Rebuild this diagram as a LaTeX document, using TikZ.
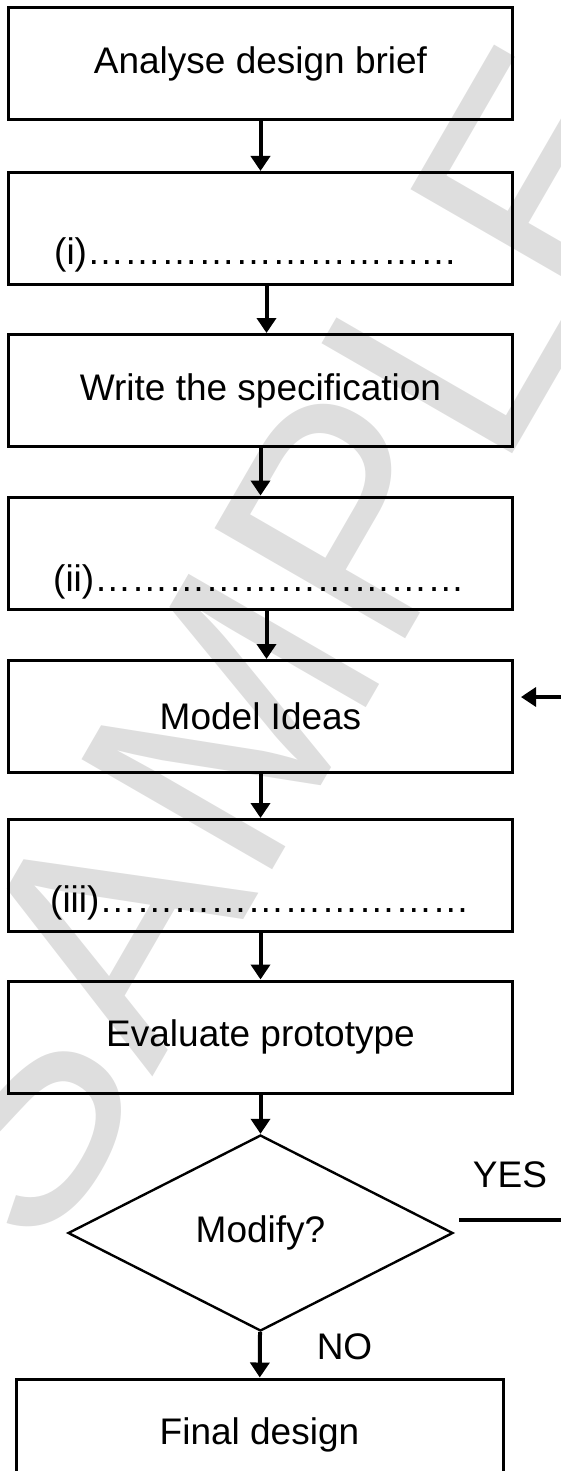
\documentclass[tikz,border=0pt]{standalone}
\usepackage{fontspec}
\setmainfont{Liberation Sans}
\usetikzlibrary{shapes.geometric,arrows.meta}

\begin{document}
\begin{tikzpicture}[x=1pt,y=-1pt,
  caixa/.style = {draw,line width=3pt,minimum width=504pt,minimum height=112pt,inner sep=0pt,font=\fontsize{37}{44}\selectfont},
  lacuna/.style = {anchor=base west,inner sep=0pt,font=\fontsize{37}{44}\selectfont},
  decisao/.style = {diamond,draw,line width=2.4pt,aspect=1.96,minimum width=385pt,minimum height=196pt,inner sep=0pt,font=\fontsize{37}{44}\selectfont},
  rotulo/.style = {inner sep=0pt,font=\fontsize{37}{44}\selectfont},
  seta/.style = {line width=4pt,-{Triangle[length=15pt,width=19pt]}},
  marca/.style = {text=black!13,rotate=60,inner sep=0pt,font=\fontsize{320}{320}\selectfont}]
\useasboundingbox (0,0) rectangle (560,1471);
\node[marca] (sample) at (275,645) {SAMPLE};

\node[caixa] (brief) at (260.5,64) {Analyse design brief};
\node[caixa] (passo1) at (260.5,228.5) {};
\node[caixa] (spec) at (260.5,390.5) {Write the specification};
\node[caixa] (passo2) at (260.5,553) {};
\node[caixa] (model) at (260.5,716.5) {Model Ideas};
\node[caixa] (passo3) at (260.5,875.5) {};
\node[caixa] (evaluate) at (260.5,1037) {Evaluate prototype};
\node[decisao] (modify) at (260.5,1233) {Modify?};
\node[caixa,minimum width=487pt] (final) at (259.5,1435) {Final design};

\node[lacuna] (i) at (54,264) {(i)…………………………};
\node[lacuna] (ii) at (53,591) {(ii)…………………………};
\node[lacuna] (iii) at (50,912) {(iii)…………………………};
\node[rotulo] (yes) at (510,1175) {YES};
\node[rotulo] (no) at (344.5,1347) {NO};

\draw[seta] (brief) -- (passo1);
\draw[seta] ([xshift=6pt]passo1.south) -- ([xshift=6pt]spec.north);
\draw[seta] (spec) -- (passo2);
\draw[seta] ([xshift=6pt]passo2.south) -- ([xshift=6pt]model.north);
\draw[seta] (model) -- (passo3);
\draw[seta] (passo3) -- (evaluate);
\draw[seta] (evaluate) -- (modify);
\draw[seta] (modify) -- (final);
\draw[seta,line width=3.4pt] ([shift={(5,-13)}]modify.east) -- ++(125,0) |- ([shift={(7,-19.5)}]model.east);
\end{tikzpicture}
\end{document}
